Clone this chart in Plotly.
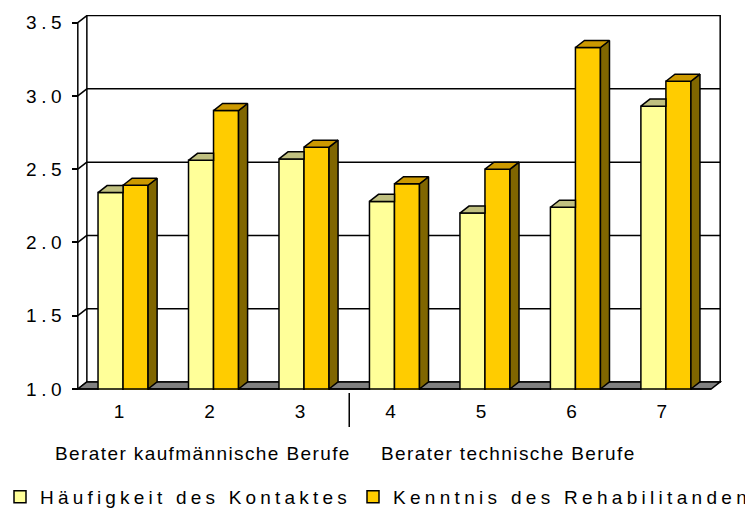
import plotly.graph_objects as go

# ---------------- data ----------------
categories = ["1", "2", "3", "4", "5", "6", "7"]
haeufigkeit = [2.34, 2.56, 2.57, 2.28, 2.20, 2.24, 2.93]
kenntnis = [2.39, 2.90, 2.65, 2.40, 2.50, 3.33, 3.10]
series_names = ["Häufigkeit des Kontaktes", "Kenntnis des Rehabilitanden"]
y_ticks = [1.0, 1.5, 2.0, 2.5, 3.0, 3.5]
group_labels = ["Berater kaufmännische Berufe", "Berater technische Berufe"]

# ---------------- style ----------------
FONT = "Liberation Sans, Arial, sans-serif"
C_Y_FRONT, C_Y_TOP = "#FFFF99", "#C0C080"
C_O_FRONT, C_O_TOP, C_O_SIDE = "#FFCC00", "#CC9900", "#806600"
C_FLOOR = "#808080"
LW = 1.5
FIG_W, FIG_H = 745, 510   # page body has an 8px default margin


def spaced(t, ls):
    return f'<span style="letter-spacing:{ls}px">{t}</span>'


x = list(range(len(categories)))
BARGAP = 0.447
W = (1 - BARGAP) / 2          # width of one bar in category units
DX, DY = 0.1, 0.048           # pseudo-3D depth offsets (x units, y units)
Y0, YT = y_ticks[0], y_ticks[-1]
XL, XR = -0.5, len(categories) - 0.5
XMIN, XMAX = -0.52, XR + DX + 0.02
YMIN, YMAX = 0.993, YT + DY + 0.004
ML, MR, MT, MB = 68, 31, 7, 128
PLOT_W = FIG_W - ML - MR
PLOT_H = FIG_H - MT - MB


def polys(list_of_pts):
    xs, ys = [], []
    for pts in list_of_pts:
        for px, py in pts:
            xs.append(px)
            ys.append(py)
        xs.append(pts[0][0])
        ys.append(pts[0][1])
        xs.append(None)
        ys.append(None)
    return xs, ys


fig = go.Figure()
fig.add_bar(x=x, y=haeufigkeit, name=spaced(series_names[0], 4.2), legend="legend",
            marker=dict(color=C_Y_FRONT, line=dict(color="black", width=LW)))
fig.add_bar(x=x, y=kenntnis, name=spaced(series_names[1], 4.3), legend="legend2",
            marker=dict(color=C_O_FRONT, line=dict(color="black", width=LW)))

# top faces of yellow bars (right part hidden by the orange bar)
yt = [[(c - W, v), (c, v), (c, v + DY), (c - W + DX, v + DY)] for c, v in zip(x, haeufigkeit)]
# side + top faces of orange bars
os_ = [[(c + W, Y0), (c + W, v), (c + W + DX, v + DY), (c + W + DX, Y0 + DY)] for c, v in zip(x, kenntnis)]
ot = [[(c, v), (c + W, v), (c + W + DX, v + DY), (c + DX, v + DY)] for c, v in zip(x, kenntnis)]
for pts, col in [(yt, C_Y_TOP), (os_, C_O_SIDE), (ot, C_O_TOP)]:
    xs, ys = polys(pts)
    fig.add_scatter(x=xs, y=ys, mode="lines", fill="toself", fillcolor=col,
                    line=dict(color="black", width=LW), showlegend=False,
                    hoverinfo="skip")

shapes = []
line = dict(color="black", width=LW)
# back wall frame and grid lines
shapes.append(dict(type="rect", xref="x", yref="y", x0=XL + DX, x1=XR + DX,
                   y0=Y0 + DY, y1=YT + DY, line=line, layer="below"))
for v in y_ticks[1:-1]:
    shapes.append(dict(type="line", xref="x", yref="y", x0=XL + DX, x1=XR + DX,
                       y0=v + DY, y1=v + DY, line=line, layer="below"))
# side wall diagonals and front axis
for v in y_ticks:
    shapes.append(dict(type="line", xref="x", yref="y", x0=XL, x1=XL + DX,
                       y0=v, y1=v + DY, line=line, layer="below"))
shapes.append(dict(type="line", xref="x", yref="y", x0=XL, x1=XL,
                   y0=Y0, y1=YT, line=line, layer="below"))
# floor
shapes.append(dict(type="path", xref="x", yref="y",
                   path=f"M{XL},{Y0} L{XR},{Y0} L{XR + DX},{Y0 + DY} L{XL + DX},{Y0 + DY} Z",
                   fillcolor=C_FLOOR, line=line, layer="below"))
shapes.append(dict(type="line", xref="x", yref="y", x0=XL, x1=XR,
                   y0=Y0, y1=Y0, line=line, layer="above"))
# group separator tick
shapes.append(dict(type="line", xref="x", yref="paper", x0=2.5, x1=2.5,
                   y0=-3 / PLOT_H, y1=-37 / PLOT_H, line=line))

annotations = []
for lab, cx in zip(group_labels, [0.889, 4.255]):
    annotations.append(dict(text=spaced(lab, 1.4), xref="x", yref="paper",
                            x=cx, y=-63 / PLOT_H, xanchor="center", yanchor="middle",
                            showarrow=False, font=dict(size=19, color="black", family=FONT)))

legend_common = dict(orientation="h", xref="paper", yref="container",
                     xanchor="left", y=(FIG_H - 489) / FIG_H, yanchor="middle",
                     font=dict(size=19, family=FONT, color="black"),
                     bgcolor="rgba(0,0,0,0)", borderwidth=0)

fig.update_layout(
    width=FIG_W, height=FIG_H, autosize=False,
    margin=dict(l=ML, r=MR, t=MT, b=MB, autoexpand=False),
    paper_bgcolor="white", plot_bgcolor="white",
    barmode="group", bargap=BARGAP, bargroupgap=0,
    font=dict(family=FONT, color="black"),
    shapes=shapes, annotations=annotations,
    showlegend=True,
    legend=dict(x=-(ML + 8) / PLOT_W, **legend_common),
    legend2=dict(x=(345 - ML) / PLOT_W, **legend_common),
    xaxis=dict(range=[XMIN, XMAX], tickvals=x, ticktext=categories,
               showgrid=False, zeroline=False, showline=False, ticks="",
               tickfont=dict(size=19), ticklabelstandoff=8, ticklabelshift=-4),
    yaxis=dict(range=[YMIN, YMAX], anchor="free",
               position=(XL - XMIN) / (XMAX - XMIN),
               tickvals=y_ticks, ticktext=[spaced(f"{t:.1f}", 4.5) for t in y_ticks],
               ticks="outside", ticklen=6, tickwidth=LW, tickcolor="black",
               showgrid=False, zeroline=False, showline=False,
               ticklabelstandoff=2,
               tickfont=dict(size=19)),
)

fig.write_html("out.html")
